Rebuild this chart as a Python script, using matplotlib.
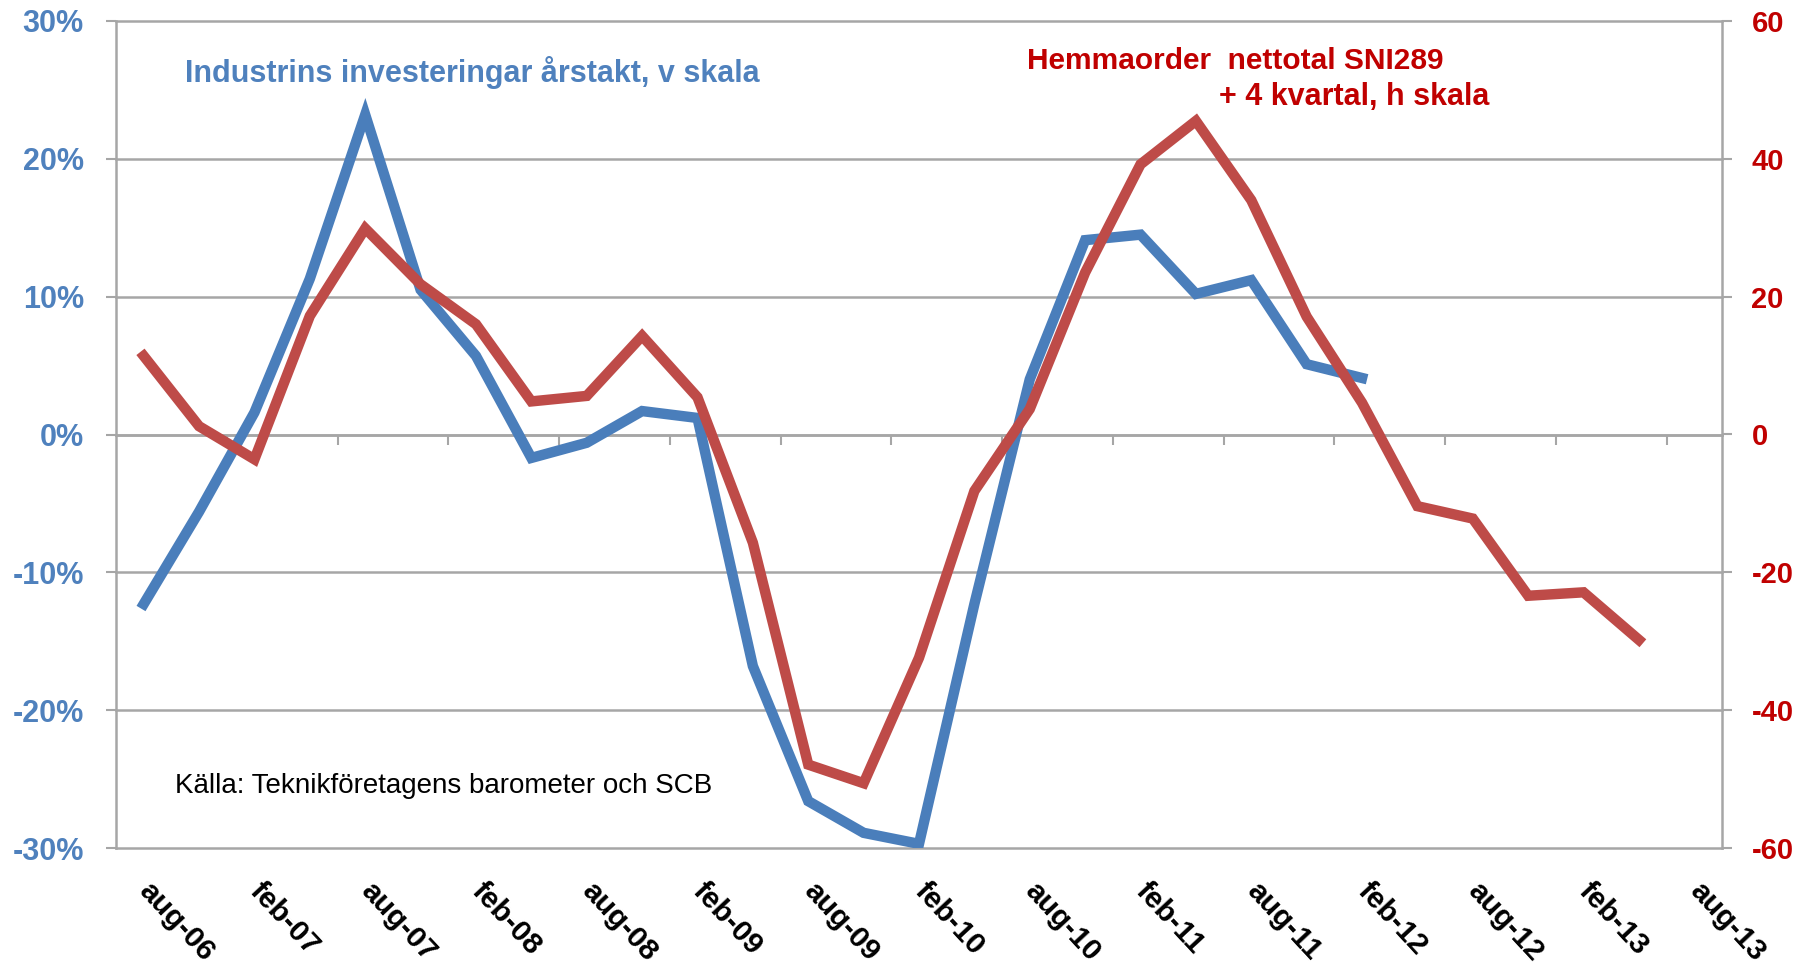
import matplotlib
matplotlib.use("Agg")
import matplotlib.pyplot as plt
import matplotlib.transforms as mtransforms

plt.rcParams['font.family'] = ['Liberation Sans', 'DejaVu Sans']

# quarterly categories, aug-06 .. aug-13
quarters = ['aug-06', 'nov-06', 'feb-07', 'maj-07', 'aug-07', 'nov-07', 'feb-08', 'maj-08',
            'aug-08', 'nov-08', 'feb-09', 'maj-09', 'aug-09', 'nov-09', 'feb-10', 'maj-10',
            'aug-10', 'nov-10', 'feb-11', 'maj-11', 'aug-11', 'nov-11', 'feb-12', 'maj-12',
            'aug-12', 'nov-12', 'feb-13', 'maj-13', 'aug-13']

# industrins investeringar, årstakt % (left scale)
invest = [-12.3, -5.6, 1.6, 11.3, 23.2, 10.5, 5.7, -1.7, -0.6, 1.7, 1.2, -16.8, -26.6,
          -28.9, -29.7, -12.3, 4.0, 14.1, 14.5, 10.2, 11.2, 5.1, 4.1]

# hemmaorder nettotal SNI289 + 4 kvartal (right scale)
orders = [11.4, 1.2, -3.6, 17.2, 29.9, 21.8, 16.0, 4.8, 5.6, 14.3, 5.4, -15.7, -47.9,
          -50.6, -32.4, -8.2, 3.7, 23.5, 39.2, 45.5, 34.0, 17.1, 4.6, -10.4, -12.2,
          -23.4, -22.9, -29.8]

left_ticks = [-30, -20, -10, 0, 10, 20, 30]
right_ticks = [-60, -40, -20, 0, 20, 40, 60]

blue = '#4A7EBB'
red = '#BE4B48'
blue_txt = '#4F81BD'
red_txt = '#C00000'
grid_c = '#A6A6A6'

fig = plt.figure(figsize=(18.14, 9.67), dpi=100)
ax = fig.add_axes([116 / 1814, 1 - 848 / 967, (1722 - 116) / 1814, (848 - 21) / 967])
ax2 = ax.twinx()

xs = list(range(len(quarters)))
ax.plot(xs[:len(invest)], invest, color=blue, lw=7.5, solid_joinstyle='miter', zorder=3)
ax2.plot(xs[:len(orders)], orders, color=red, lw=7.5, solid_joinstyle='miter', zorder=3)

ax.set_xlim(-0.5, len(quarters) - 0.5)
ax.set_ylim(-30, 30)
ax2.set_ylim(-60, 60)

ax.set_yticks(left_ticks)
ax.set_yticklabels([f'{t}%' for t in left_ticks])
ax2.set_yticks(right_ticks)
ax2.set_yticklabels([str(t) for t in right_ticks])

for t in left_ticks:
    ax.axhline(t, color=grid_c, lw=1.8, zorder=1, clip_on=False)

ax.tick_params(axis='y', colors=grid_c, length=7.2, width=1.5, labelsize=22, pad=16)
for lb in ax.get_yticklabels():
    lb.set_color(blue_txt)
    lb.set_fontweight('bold')
ax2.tick_params(axis='y', colors=grid_c, length=7.2, width=1.5, labelsize=21, pad=14)
for lb in ax2.get_yticklabels():
    lb.set_color(red_txt)
    lb.set_fontweight('bold')

# category axis crosses at zero, tick marks every second quarter
ax.spines['bottom'].set_position(('data', 0))
ax.set_xticks([i + 1.5 for i in range(0, len(quarters) - 2, 2)])
ax.tick_params(axis='x', colors=grid_c, length=7.2, width=1.5, labelbottom=False)
for s in ['top']:
    ax.spines[s].set_visible(False)
    ax2.spines[s].set_visible(False)
ax2.spines['bottom'].set_visible(False)
ax2.spines['left'].set_visible(False)
for s in ['left', 'bottom']:
    ax.spines[s].set_color(grid_c)
    ax.spines[s].set_linewidth(1.8)
ax.spines['right'].set_visible(False)
ax2.spines['right'].set_color(grid_c)
ax2.spines['right'].set_linewidth(1.8)

# rotated category labels below the plot
trans = mtransforms.blended_transform_factory(ax.transData, ax.transAxes)
for i in range(0, len(quarters), 2):
    ax.text(i + 0.0, -0.047, quarters[i], transform=trans, rotation=-47,
            rotation_mode='anchor', ha='left', va='center', fontsize=21.5,
            fontweight='bold', color='black')

ax.text(0.043, 0.938, 'Industrins investeringar årstakt, v skala', transform=ax.transAxes,
        color=blue_txt, fontsize=22, fontweight='bold', ha='left', va='center')
ax.text(0.567, 0.952, 'Hemmaorder  nettotal SNI289', transform=ax.transAxes,
        color=red_txt, fontsize=21.5, fontweight='bold', ha='left', va='center')
ax.text(0.6866, 0.908, '+ 4 kvartal, h skala', transform=ax.transAxes,
        color=red_txt, fontsize=22, fontweight='bold', ha='left', va='center')
ax.text(0.037, 0.075, 'Källa: Teknikföretagens barometer och SCB', transform=ax.transAxes,
        color='black', fontsize=20, ha='left', va='center')

fig.savefig('out.png', dpi=100, facecolor='white')
